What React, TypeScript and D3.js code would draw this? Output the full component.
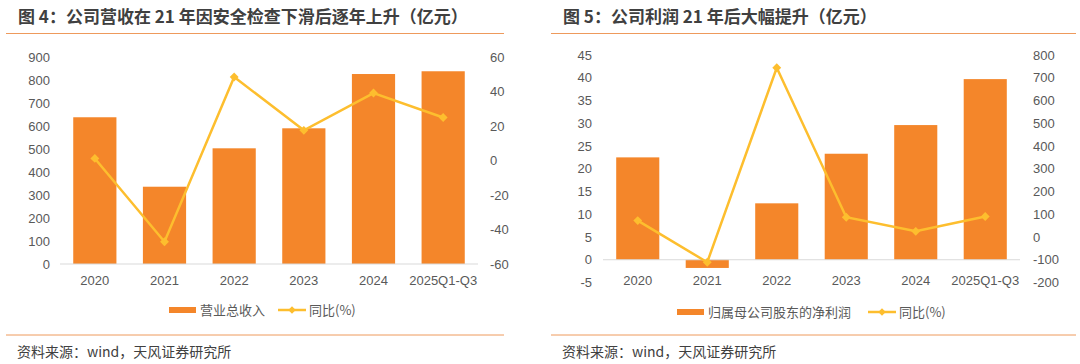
import React from 'react';
import * as d3 from 'd3';

const categories = ['2020', '2021', '2022', '2023', '2024', '2025Q1-Q3'];

// 图4 营业总收入（亿元）与同比(%)
const revenue = [638, 336, 503, 590, 826, 838];
const revenueYoY = [1.2, -47.1, 48.4, 17.5, 39.1, 24.9];
const revLeftTicks = [0, 100, 200, 300, 400, 500, 600, 700, 800, 900];
const revRightTicks = [-60, -40, -20, 0, 20, 40, 60];

// 图5 归母净利润（亿元）与同比(%)
const profit = [22.5, -1.8, 12.4, 23.3, 29.6, 39.7];
const profitYoY = [72, -111, 744, 87, 25, 90];
const profLeftTicks = [-5, 0, 5, 10, 15, 20, 25, 30, 35, 40, 45];
const profRightTicks = [-200, -100, 0, 100, 200, 300, 400, 500, 600, 700, 800];

const BAR = '#F4862A';
const LINE = '#FDBE2E';
const RULE = '#EE9A5C';
const TXT = '#595959';
const FONT = '"Liberation Sans", "Noto Sans CJK SC", sans-serif';
const CJK = '"Noto Sans CJK SC", "Liberation Sans", sans-serif';

type PanelProps = {
  title: string;
  titleX: number;
  ruleX: [number, number];
  plotX: [number, number];
  yRange: [number, number];
  leftDomain: [number, number];
  rightDomain: [number, number];
  leftTicks: number[];
  rightTicks: number[];
  leftLabelX: number;
  rightLabelX: number;
  bars: number[];
  line: number[];
  barName: string;
  legendX: number;
  lineLegendX: number;
  legendY: number;
};

const Panel = (p: PanelProps) => {
  const x = d3.scaleBand<string>().domain(categories).range(p.plotX).paddingInner(0.38).paddingOuter(0.19);
  const yL = d3.scaleLinear().domain(p.leftDomain).range(p.yRange);
  const yR = d3.scaleLinear().domain(p.rightDomain).range(p.yRange);
  const cx = (c: string) => (x(c) ?? 0) + x.bandwidth() / 2;
  const lineGen = d3.line<number>().x((_, i) => cx(categories[i])).y(d => yR(d));
  const diamond = d3.symbol().type(d3.symbolDiamond2).size(50)();
  const smallDiamond = d3.symbol().type(d3.symbolDiamond2).size(36)();

  return (
    <g>
      <text x={p.titleX} y={23} fontFamily={CJK} fontWeight="bold" fontSize={17} fill="#404040">{p.title}</text>
      <line x1={p.ruleX[0]} x2={p.ruleX[1]} y1={33.5} y2={33.5} stroke={RULE} strokeWidth={1} />

      {p.leftTicks.map(t => (
        <text key={'l' + t} x={p.leftLabelX} y={yL(t)} dy="0.35em" textAnchor="end" fontFamily={FONT} fontSize={13} fill={TXT}>{t}</text>
      ))}
      {p.rightTicks.map(t => (
        <text key={'r' + t} x={p.rightLabelX} y={yR(t)} dy="0.35em" textAnchor="start" fontFamily={FONT} fontSize={13} fill={TXT}>{t}</text>
      ))}

      {p.bars.map((v, i) => (
        <rect key={i} x={x(categories[i])} width={x.bandwidth()}
          y={Math.min(yL(v), yL(0))} height={Math.abs(yL(v) - yL(0))} fill={BAR} />
      ))}
      <line x1={p.plotX[0]} x2={p.plotX[1]} y1={yL(0)} y2={yL(0)} stroke="#D9D9D9" strokeWidth={1} />

      <path d={lineGen(p.line) ?? ''} fill="none" stroke={LINE} strokeWidth={2.5} />
      {p.line.map((v, i) => (
        <path key={i} d={diamond ?? ''} transform={`translate(${cx(categories[i])},${yR(v)})`} fill={LINE} />
      ))}

      {categories.map(c => (
        <text key={c} x={cx(c)} y={280} dy="0.35em" textAnchor="middle" fontFamily={FONT} fontSize={13} fill={TXT}>{c}</text>
      ))}

      <rect x={p.legendX} y={p.legendY - 3} width={27} height={6} fill={BAR} />
      <text x={p.legendX + 31} y={p.legendY} dy="0.35em" fontFamily={CJK} fontSize={13} fill={TXT}>{p.barName}</text>
      <line x1={p.lineLegendX} x2={p.lineLegendX + 28} y1={p.legendY} y2={p.legendY} stroke={LINE} strokeWidth={2.5} />
      <path d={smallDiamond ?? ''} transform={`translate(${p.lineLegendX + 14},${p.legendY})`} fill={LINE} />
      <text x={p.lineLegendX + 31} y={p.legendY} dy="0.35em" fontFamily={CJK} fontSize={13} fill={TXT}>同比(%)</text>

      <line x1={p.ruleX[0]} x2={p.ruleX[1]} y1={335} y2={335} stroke={RULE} strokeWidth={1} />
      <text x={p.titleX - 1} y={352} dy="0.35em" fontFamily={CJK} fontSize={14} fill="#404040">资料来源：wind，天风证券研究所</text>
    </g>
  );
};

export default function App() {
  return (
    <svg width={1080} height={364} style={{ position: 'absolute', left: 0, top: 0, background: '#fff' }}>
      <Panel
        title="图 4：公司营收在 21 年因安全检查下滑后逐年上升（亿元）"
        titleX={18}
        ruleX={[6, 504]}
        plotX={[60, 478]}
        yRange={[264, 57]}
        leftDomain={[0, 900]}
        rightDomain={[-60, 60]}
        leftTicks={revLeftTicks}
        rightTicks={revRightTicks}
        leftLabelX={50}
        rightLabelX={490}
        bars={revenue}
        line={revenueYoY}
        barName="营业总收入"
        legendX={169}
        lineLegendX={278}
        legendY={310}
      />
      <Panel
        title="图 5：公司利润 21 年后大幅提升（亿元）"
        titleX={563}
        ruleX={[551, 1076]}
        plotX={[603, 1020]}
        yRange={[282.5, 55]}
        leftDomain={[-5, 45]}
        rightDomain={[-200, 800]}
        leftTicks={profLeftTicks}
        rightTicks={profRightTicks}
        leftLabelX={592}
        rightLabelX={1033}
        bars={profit}
        line={profitYoY}
        barName="归属母公司股东的净利润"
        legendX={677}
        lineLegendX={868}
        legendY={312}
      />
    </svg>
  );
}
